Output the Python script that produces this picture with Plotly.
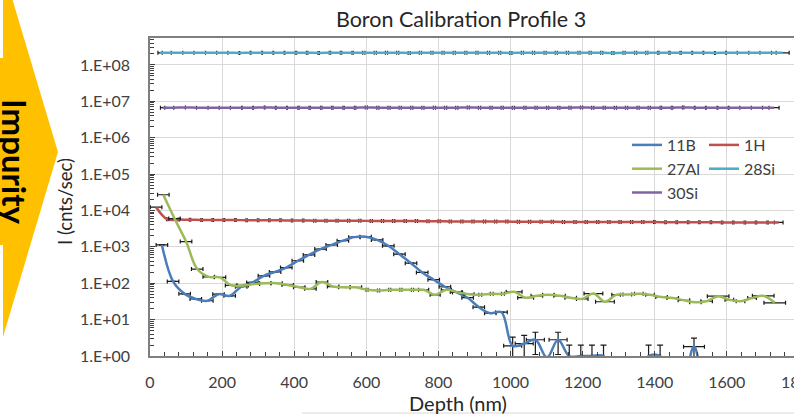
import plotly.graph_objects as go

# ---------------- data ----------------
depth_11B = [33, 64, 96, 127, 159, 190, 221, 253, 284, 316, 347, 378, 410, 441, 473, 504, 535, 567, 598, 630,
             661, 692, 724, 755, 787, 818, 849, 881, 912, 944, 975, 1006, 1038, 1069, 1101, 1132, 1163, 1195, 1226, 1258,
             1289, 1320, 1352, 1383, 1415, 1446, 1477, 1509, 1540, 1572, 1603, 1634, 1666, 1697, 1729]
cps_11B = [1130, 112, 51, 37, 33, 50, 45, 80, 105, 160, 205, 270, 415, 600, 870, 1130, 1480, 1850, 1900, 1550,
           1070, 630, 356, 198, 125, 80, 57, 40, 22, 15, 16, 1.9, 2.2, 2.8, 0.9, 2.8, 1, 1, 1, 1,
           0.2, 0.2, 0.2, 1, 1, 0.2, 0.2, 1.8, 0.2, 0.2, 0.2, 0.2, 0.2, 0.2, 0.2]
xerr_11B = [16, 16, 16, 16, 16, 16, 16, 16, 16, 16, 16, 16, 16, 16, 16, 16, 16, 16, 16, 16,
            16, 16, 16, 16, 16, 16, 16, 16, 16, 16, 16, 25, 25, 25, 0, 25, 0, 0, 0, 0,
            0, 0, 0, 0, 0, 0, 0, 29, 0, 0, 0, 0, 0, 0, 0]
yerr_11B = [0, 0, 0, 0, 0, 0, 0, 0, 0, 0, 0, 0, 0, 0, 0, 0, 0, 0, 0, 0,
            0, 0, 0, 0, 0, 0, 0, 0, 0, 0, 0, 1.4, 1.5, 1.7, 0, 1.7, 1, 1, 1, 1,
            0, 0, 0, 1, 1, 0, 0, 1.3, 0, 0, 0, 0, 0, 0, 0]

depth_1H = [17, 48, 80, 111, 143, 174, 205, 237, 268, 300, 331, 362, 394, 425, 457, 488, 519, 551, 582, 614,
            645, 676, 708, 739, 771, 802, 833, 865, 896, 928, 959, 990, 1022, 1053, 1085, 1116, 1147, 1179, 1210, 1242,
            1273, 1304, 1336, 1367, 1399, 1430, 1461, 1493, 1524, 1556, 1587, 1618, 1650, 1681, 1713, 1744]
cps_1H = [12300, 5700, 5600, 5550, 5500, 5500, 5450, 5450, 5400, 5400, 5350, 5350, 5300, 5300, 5250, 5250, 5200, 5200, 5200, 5150,
          5150, 5100, 5100, 5100, 5050, 5050, 5000, 5000, 5000, 4950, 4950, 4950, 4900, 4900, 4900, 4900, 4850, 4850, 4850, 4850,
          4800, 4800, 4800, 4800, 4800, 4750, 4750, 4750, 4750, 4750, 4700, 4700, 4700, 4700, 4700, 4700]
xerr_1H = [16, 2, 2, 2, 2, 2, 2, 2, 2, 2, 2, 2, 2, 2, 3, 3, 3, 3, 3, 3,
           3, 3, 3, 3, 3, 3, 3, 3, 3, 3, 3, 3, 3, 3, 3, 3, 3, 3, 3, 3,
           3, 3, 3, 3, 2, 2, 2, 2, 2, 2, 2, 2, 2, 2, 2, 12]

depth_27Al = [37, 68, 100, 131, 163, 194, 225, 257, 288, 320, 351, 382, 414, 445, 477, 508, 539, 571, 602, 634,
              665, 696, 728, 759, 791, 822, 853, 885, 916, 948, 979, 1010, 1042, 1073, 1105, 1136, 1167, 1199, 1230, 1262,
              1293, 1324, 1356, 1387, 1419, 1450, 1481, 1513, 1544, 1576, 1607, 1638, 1670, 1701, 1733]
cps_27Al = [27000, 6000, 1400, 245, 150, 145, 87, 87, 95, 100, 100, 90, 78, 70, 108, 81, 77, 77, 66, 63,
            66, 66, 66, 66, 48, 66, 56, 50, 48, 51, 51, 58, 40, 45, 48, 45, 40, 37, 52, 31,
            48, 49, 51, 48, 42, 39, 34, 30, 32, 44, 35, 32, 39, 45, 29]
xerr_27Al = [16, 16, 16, 16, 16, 16, 16, 16, 16, 16, 16, 16, 16, 16, 16, 16, 16, 16, 3, 3,
             3, 3, 3, 14, 14, 14, 14, 14, 4, 4, 4, 22, 22, 16, 16, 16, 16, 16, 26, 26,
             12, 12, 12, 12, 16, 16, 16, 16, 16, 30, 12, 12, 12, 30, 30]

depth_28Si = [28, 59, 91, 122, 154, 185, 216, 248, 279, 311, 342, 373, 405, 436, 468, 499, 530, 562, 593, 625,
              656, 687, 719, 750, 782, 813, 844, 876, 907, 939, 970, 1001, 1033, 1064, 1096, 1127, 1158, 1190, 1221, 1253,
              1284, 1315, 1347, 1378, 1410, 1441, 1472, 1504, 1535, 1567, 1598, 1629, 1661, 1692, 1724, 1755]
cps_28Si = [2.15e8, 2.16e8, 2.15e8, 2.15e8, 2.16e8, 2.15e8, 2.15e8, 2.14e8, 2.15e8, 2.15e8, 2.16e8, 2.15e8, 2.15e8, 2.15e8,
            2.14e8, 2.15e8, 2.15e8, 2.15e8, 2.16e8, 2.15e8, 2.15e8, 2.15e8, 2.14e8, 2.15e8, 2.15e8, 2.15e8, 2.15e8, 2.16e8,
            2.15e8, 2.15e8, 2.15e8, 2.14e8, 2.15e8, 2.15e8, 2.15e8, 2.15e8, 2.16e8, 2.15e8, 2.15e8, 2.15e8, 2.14e8, 2.15e8,
            2.15e8, 2.15e8, 2.15e8, 2.16e8, 2.15e8, 2.15e8, 2.15e8, 2.14e8, 2.15e8, 2.15e8, 2.15e8, 2.15e8, 2.15e8, 2.15e8]
xerr_28Si = [6, 0, 0, 0, 0, 0, 0, 1, 1, 1, 1, 1, 2, 2, 2, 2, 2, 2, 3, 3,
             3, 3, 3, 3, 3, 3, 3, 3, 3, 3, 3, 3, 3, 3, 3, 3, 3, 3, 3, 3,
             3, 3, 3, 3, 2, 2, 2, 1, 1, 1, 1, 0, 0, 0, 0, 18]

depth_30Si = [35, 66, 98, 129, 161, 192, 223, 255, 286, 318, 349, 380, 412, 443, 475, 506, 537, 569, 600, 632,
              663, 694, 726, 757, 789, 820, 851, 883, 914, 946, 977, 1008, 1040, 1071, 1103, 1134, 1165, 1197, 1228, 1260,
              1291, 1322, 1354, 1385, 1417, 1448, 1479, 1511, 1542, 1574, 1605, 1636, 1668, 1699, 1731]
cps_30Si = [6.7e6, 6.7e6, 6.75e6, 6.7e6, 6.7e6, 6.65e6, 6.7e6, 6.7e6, 6.7e6, 6.75e6, 6.7e6, 6.7e6, 6.7e6, 6.65e6,
            6.7e6, 6.7e6, 6.7e6, 6.7e6, 6.75e6, 6.7e6, 6.7e6, 6.7e6, 6.65e6, 6.7e6, 6.7e6, 6.7e6, 6.7e6, 6.75e6,
            6.7e6, 6.7e6, 6.7e6, 6.7e6, 6.65e6, 6.7e6, 6.7e6, 6.7e6, 6.7e6, 6.75e6, 6.7e6, 6.7e6, 6.7e6, 6.65e6,
            6.7e6, 6.7e6, 6.7e6, 6.7e6, 6.75e6, 6.7e6, 6.7e6, 6.7e6, 6.7e6, 6.7e6, 6.7e6, 6.7e6, 6.7e6]
xerr_30Si = [6, 0, 0, 0, 0, 0, 0, 1, 1, 1, 1, 1, 2, 2, 2, 2, 2, 2, 3, 3,
             3, 3, 3, 3, 3, 3, 3, 3, 3, 3, 3, 3, 3, 3, 3, 3, 3, 3, 3, 3,
             3, 3, 3, 3, 2, 2, 2, 1, 1, 1, 1, 0, 0, 0, 14]

y_tick_vals = [1, 10, 100, 1e3, 1e4, 1e5, 1e6, 1e7, 1e8]
y_tick_text = ["1.E+00", "1.E+01", "1.E+02", "1.E+03", "1.E+04", "1.E+05", "1.E+06", "1.E+07", "1.E+08"]
y_minor_vals = [m * 10 ** e for e in range(0, 9) for m in range(2, 10)]

# ---------------- figure ----------------
FONT = "Lato, 'Noto Sans', sans-serif"
TXT = "#404040"
W, H = 794, 418
L, T, B, R = 150, 38, 62, 0
PW, PH = W - L - R, H - T - B


def px2paper(px, py):
    return (px - L) / PW, (H - B - py) / PH


fig = go.Figure()


def add_series(name, x, y, xe, color, legend, ye=None):
    fig.add_trace(go.Scatter(
        x=x, y=y, mode="lines", name=name, legend=legend,
        line=dict(color=color, width=2.5, shape="spline", smoothing=1),
        error_x=dict(type="data", array=xe, color="#1a1a1a", thickness=1.2, width=2),
        error_y=dict(type="data", array=ye if ye is not None else [0] * len(y),
                     visible=ye is not None, color="#1a1a1a", thickness=1.2, width=3),
        hoverinfo="skip",
    ))


add_series("11B", depth_11B, cps_11B, xerr_11B, "#4A7EBB", "legend", yerr_11B)
add_series("1H", depth_1H, cps_1H, xerr_1H, "#C0504D", "legend2")
add_series("27Al", depth_27Al, cps_27Al, xerr_27Al, "#9BBB59", "legend")
add_series("28Si", depth_28Si, cps_28Si, xerr_28Si, "#4BACC6", "legend2")
add_series("30Si", depth_30Si, cps_30Si, xerr_30Si, "#8064A2", "legend")

# yellow arrow at the left edge
arrow_px = [(3, -2), (12, -2), (58, 152), (3, 337), (3, 245), (-2, 245), (-2, 58), (3, 58)]
pts = [px2paper(a, b) for a, b in arrow_px]
path = "M " + " L ".join(f"{a:.4f},{b:.4f}" for a, b in pts) + " Z"
shapes = [
    dict(type="path", xref="paper", yref="paper", path=path, fillcolor="#FFC000", line=dict(width=0), layer="above"),
]
bx0, by0 = px2paper(302, 413)
bx1, _ = px2paper(800, 413)
shapes.append(dict(type="line", xref="paper", yref="paper", x0=bx0, x1=bx1, y0=by0, y1=by0,
                   line=dict(color="#D9D9D9", width=1)))

ix, iy = px2paper(15, 161)
tx, ty = px2paper(799, 381)
dx, dy = px2paper(458, 403)
yx, yy = px2paper(65, 202)
annotations = [
    dict(xref="paper", yref="paper", x=ix, y=iy, text="<b>Impurity</b>", textangle=90, showarrow=False,
         font=dict(family=FONT, size=33, color="#000000"), xanchor="center", yanchor="middle"),
    dict(xref="paper", yref="paper", x=tx, y=ty, text="1800", showarrow=False,
         font=dict(family=FONT, size=16, color=TXT), xanchor="center", yanchor="middle"),
    dict(xref="paper", yref="paper", x=dx, y=dy, text="Depth (nm)", showarrow=False,
         font=dict(family=FONT, size=20, color="#262626"), xanchor="center", yanchor="middle"),
    dict(xref="paper", yref="paper", x=yx, y=yy, text="I (cnts/sec)", textangle=-90, showarrow=False,
         font=dict(family=FONT, size=18.5, color="#262626"), xanchor="center", yanchor="middle"),
]

lx1, ly = px2paper(627, 128)
lx2, _ = px2paper(704, 128)

fig.update_layout(
    width=W, height=H,
    margin=dict(l=L, r=R, t=T, b=B, pad=0),
    paper_bgcolor="white", plot_bgcolor="white",
    font=dict(family=FONT, size=16, color=TXT),
    title=dict(text="Boron Calibration Profile 3", x=461 / W, y=1 - 19 / H, xref="container", yref="container",
               xanchor="center", yanchor="middle", font=dict(family=FONT, size=21.5, color="#262626")),
    showlegend=True,
    legend=dict(x=lx1, y=ly, xanchor="left", yanchor="top", bgcolor="rgba(0,0,0,0)",
                font=dict(family=FONT, size=16, color=TXT), tracegroupgap=0),
    legend2=dict(x=lx2, y=ly, xanchor="left", yanchor="top", bgcolor="rgba(0,0,0,0)",
                 font=dict(family=FONT, size=16, color=TXT), tracegroupgap=0),
    shapes=shapes,
    annotations=annotations,
)

fig.update_xaxes(
    range=[0, PW / 0.3605], tick0=0, dtick=200, showgrid=True, gridcolor="#D9D9D9", gridwidth=1,
    showline=True, linecolor="#7F7F7F", linewidth=1.5, mirror=True,
    ticks="inside", ticklen=5, tickcolor="#404040",
    minor=dict(dtick=40, tick0=0, ticks="inside", ticklen=4, tickcolor="#404040", showgrid=False),
    tickfont=dict(family=FONT, size=16, color=TXT), ticklabelstandoff=11, zeroline=False,
)
fig.update_yaxes(
    type="log", range=[0, 8.74], tickmode="array", tickvals=y_tick_vals, ticktext=y_tick_text,
    showgrid=True, gridcolor="#D9D9D9", gridwidth=1,
    showline=True, linecolor="#7F7F7F", linewidth=1.5,
    ticks="inside", ticklen=5, tickcolor="#404040",
    minor=dict(tickmode="array", tickvals=y_minor_vals, ticks="inside", ticklen=4, tickcolor="#404040",
               showgrid=False),
    tickfont=dict(family=FONT, size=16, color=TXT), ticklabelstandoff=15, zeroline=False,
)

fig.write_html("out.html")
